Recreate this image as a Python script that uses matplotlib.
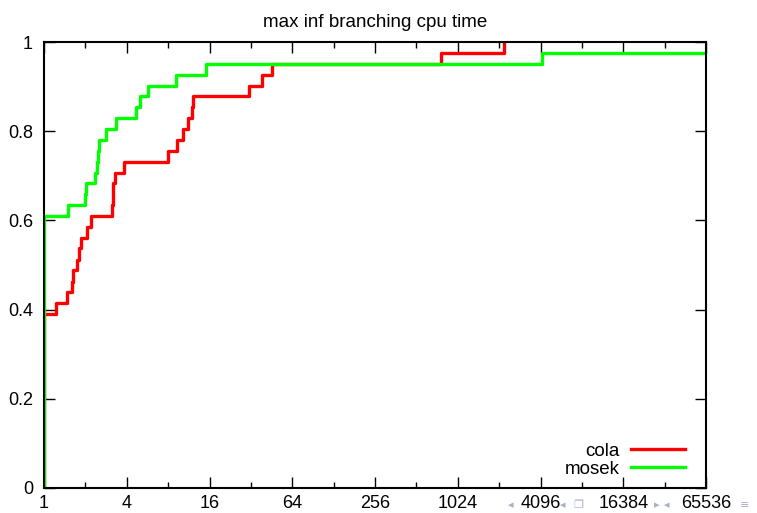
import numpy as np
from matplotlib import pyplot as plt, ticker as mticker

# performance profile data (tau, fraction of problems)
cola_tau = [1, 1, 1.22, 1.48, 1.60, 1.63, 1.75, 1.80, 1.85, 2.05, 2.19, 3.11, 3.17, 3.19,
            3.30, 3.82, 8.03, 9.33, 10.21, 11.22, 11.84, 12.08, 31.0, 38.8, 45.8, 773, 2234]
cola_frac = [0.0, 0.390, 0.415, 0.439, 0.463, 0.488, 0.512, 0.537, 0.561, 0.585, 0.610,
             0.634, 0.659, 0.683, 0.707, 0.732, 0.756, 0.780, 0.805, 0.829, 0.854, 0.878,
             0.902, 0.927, 0.951, 0.976, 1.0]

mosek_tau = [1, 1, 1.50, 2.0, 2.01, 2.35, 2.42, 2.47, 2.51, 2.81, 3.34, 4.67, 5.0, 5.68,
             9.13, 15.1, 4220, 65536]
mosek_frac = [0.0, 0.610, 0.634, 0.659, 0.683, 0.707, 0.732, 0.756, 0.780, 0.805, 0.829,
              0.854, 0.878, 0.902, 0.927, 0.951, 0.976, 0.976]

xticks = [1, 4, 16, 64, 256, 1024, 4096, 16384, 65536]
yticks = [0, 0.2, 0.4, 0.6, 0.8, 1]

plt.rcParams['font.family'] = ['Liberation Sans', 'DejaVu Sans']

fig = plt.figure(figsize=(7.57, 5.13), dpi=100)
ax = fig.add_axes([44 / 757, 25 / 513, 662 / 757, 446 / 513])

ax.step(cola_tau, cola_frac, where='post', color='#ff0000', lw=2.4, label='cola')
ax.step(mosek_tau, mosek_frac, where='post', color='#00ff00', lw=2.4, label='mosek')

ax.set_xscale('log', base=2)
ax.set_xlim(1, 65536)
ax.set_ylim(0, 1)
ax.set_xticks(xticks)
ax.set_xticklabels([str(t) for t in xticks])
ax.xaxis.set_minor_locator(mticker.FixedLocator([2 ** k for k in range(1, 16, 2)]))
ax.xaxis.set_minor_formatter(mticker.NullFormatter())
ax.set_yticks(yticks)
ax.set_yticklabels(['0', '0.2', '0.4', '0.6', '0.8', '1'])

ax.tick_params(which='both', direction='in', top=True, right=True, labelsize=13)
ax.tick_params(which='major', length=8, width=1)
ax.tick_params(which='minor', length=4, width=1)
ax.tick_params(axis='x', pad=5)
ax.tick_params(axis='y', pad=8)
for s in ax.spines.values():
    s.set_linewidth(1.5)

ax.set_title('max inf branching cpu time', fontsize=13.5, pad=11)

ax.legend(loc='lower right', frameon=False, markerfirst=False, fontsize=13.5,
          handlelength=2.9, handletextpad=0.6, labelspacing=0.05,
          borderpad=0, borderaxespad=0,
          bbox_to_anchor=(685 / 757, 1 - 478 / 513), bbox_transform=fig.transFigure)

# beamer navigation symbols
nav = [(511, '\u25c2'), (563, '\u25c2'), (578, '\u2750'), (657, '\u25b8'),
       (667, '\u25c2'), (745, '\u2261')]
for px, sym in nav:
    fig.text(px / 757, 1 - 505 / 513, sym, color='#a9aecb', fontsize=8,
             family=['DejaVu Sans', 'Noto Sans'], ha='center', va='center')

fig.savefig('out.png')
